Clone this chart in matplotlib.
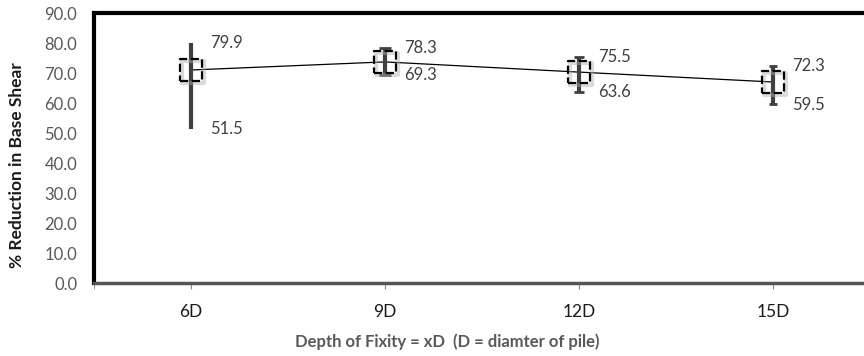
import matplotlib
matplotlib.use('Agg')
import matplotlib.pyplot as plt
import matplotlib.transforms as mtransforms
import numpy as np

plt.rcParams['font.family'] = ['Lato', 'DejaVu Sans']

depths = ['6D', '9D', '12D', '15D']
mean_red = [71.0, 73.7, 70.3, 67.0]
max_red = [79.9, 78.3, 75.5, 72.3]
min_red = [51.5, 69.3, 63.6, 59.5]
cap_sizes = [0, 4, 3.5, 3]

fig = plt.figure(figsize=(8.64, 3.56), dpi=100)
ax = fig.add_axes([94 / 864, 1 - 283 / 356, 776 / 864, 270 / 356])

x = np.arange(len(depths))

# high-low bars
for i in range(len(depths)):
    half = (max_red[i] - min_red[i]) / 2
    ax.errorbar(x[i], min_red[i] + half, yerr=half,
                fmt='none', ecolor='#404040', elinewidth=3,
                capsize=cap_sizes[i], capthick=2, zorder=4)

ax.plot(x, mean_red, color='black', lw=0.9, zorder=3)

# soft shadow behind the dashed squares
shadow_tr = mtransforms.offset_copy(ax.transData, fig=fig, x=1.5, y=-1.5, units='points')
ax.scatter(x, mean_red, marker='s', s=250, facecolors='none', edgecolors='#b0b0b0',
           linewidths=3, alpha=0.45, transform=shadow_tr, zorder=4.5)
ax.scatter(x, mean_red, marker='s', s=250, facecolors='none',
           edgecolors='black', linewidths=1.6, linestyles='--', zorder=5)

for i in range(len(depths)):
    ax.annotate(f'{max_red[i]:.1f}', (x[i], max_red[i]), xytext=(13.5, 0),
                textcoords='offset points', va='center', ha='left',
                fontsize=12, color='#404040')
    ax.annotate(f'{min_red[i]:.1f}', (x[i], min_red[i]), xytext=(13.5, 0),
                textcoords='offset points', va='center', ha='left',
                fontsize=12, color='#404040')

ax.set_xlim(-0.5, len(depths) - 0.5)
ax.set_ylim(0, 90)
ax.set_yticks(np.arange(0, 91, 10))
ax.set_yticklabels([f'{v:.1f}' for v in np.arange(0, 91, 10)])
ax.tick_params(axis='y', length=0, pad=12, labelsize=12, labelcolor='#595959')
ax.set_xticks(x)
ax.set_xticklabels(depths)
ax.set_xticks([-0.5], minor=True)
ax.tick_params(axis='x', which='both', length=4, color='#888888', pad=11,
               labelsize=12.5, labelcolor='#1a1a1a')

ax.spines['left'].set_linewidth(3)
ax.spines['top'].set_linewidth(3)
ax.spines['right'].set_visible(False)
ax.spines['bottom'].set_linewidth(2.5)
ax.spines['bottom'].set_color('#555555')

fig.text(17 / 864, 1 - 165 / 356, '% Reduction in Base Shear', rotation=90,
         ha='center', va='center', fontsize=12.5, fontweight='bold', color='#1a1a1a')
fig.text(447 / 864, 1 - 342 / 356, 'Depth of Fixity = xD  (D = diamter of pile)',
         ha='center', va='center', fontsize=12, fontweight='bold', color='#595959')

fig.savefig('out.png', dpi=100)
